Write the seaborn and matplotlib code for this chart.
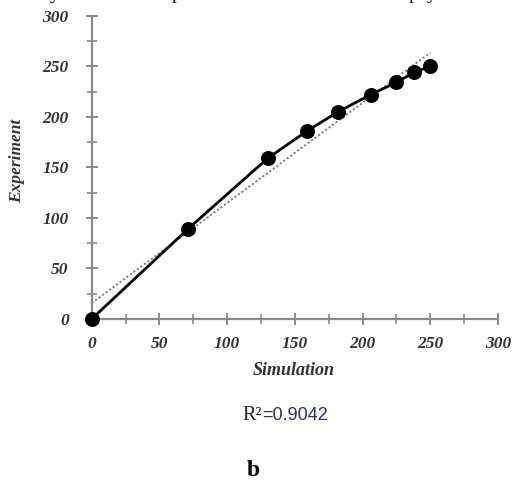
import matplotlib
matplotlib.use("Agg")
import matplotlib.pyplot as plt
import seaborn as sns
import numpy as np
from matplotlib.ticker import MultipleLocator

# Data
simulation = [0, 71, 130, 159, 182, 206, 225, 238, 250]
experiment = [0, 89, 159, 186, 205, 222, 234, 244, 250]
x_ticks = [0, 50, 100, 150, 200, 250, 300]
y_ticks = [0, 50, 100, 150, 200, 250, 300]
x_label = "Simulation"
y_label = "Experiment"
r2_text = "=0.9042"
panel_label = "b"

sns.set_style("ticks")
plt.rcParams["font.family"] = ["Liberation Serif", "DejaVu Serif"]

W, H = 515, 483
fig = plt.figure(figsize=(W / 100, H / 100), dpi=100)
ax = fig.add_axes([91.7 / W, 1 - 319 / H, (498 - 91.7) / W, (319 - 15.7) / H])

sns.regplot(x=simulation, y=experiment, scatter=False, ci=None, ax=ax,
            line_kws=dict(ls=(0, (1.2, 1.2)), color="#7a7a7a", lw=1.3))
sns.lineplot(x=simulation, y=experiment, ax=ax, color="black", lw=2,
             marker="o", markersize=10, markeredgecolor="black",
             markerfacecolor="black", clip_on=False, zorder=5)

ax.set_xlim(0, 300)
ax.set_ylim(0, 300)
ax.set_xticks(x_ticks)
ax.set_yticks(y_ticks)
ax.xaxis.set_minor_locator(MultipleLocator(25))
ax.yaxis.set_minor_locator(MultipleLocator(25))
for s in ["top", "right"]:
    ax.spines[s].set_visible(False)
for s in ["left", "bottom"]:
    ax.spines[s].set_color("#8a8a8a")
    ax.spines[s].set_linewidth(1.6)
ax.tick_params(which="major", direction="inout", length=9, width=1.4, color="#8a8a8a",
               labelsize=12.5, labelcolor="#333333")
ax.tick_params(which="minor", direction="inout", length=7, width=1.2, color="#8a8a8a")
ax.tick_params(axis="y", which="major", pad=12)
ax.tick_params(axis="x", which="major", pad=8)
for lab in ax.get_xticklabels() + ax.get_yticklabels():
    lab.set_fontstyle("italic")
    lab.set_fontweight("bold")

ax.set_xlabel(x_label, fontsize=13, fontstyle="italic", fontweight="bold",
              color="#333333")
ax.set_ylabel(y_label, fontsize=12.5, fontstyle="italic", fontweight="bold",
              color="#333333")
ax.yaxis.set_label_coords(-0.164, 0.52)
ax.xaxis.set_label_coords(0.497, -0.142)

# R^2 annotation
fig.text(262 / W, 1 - 416 / H, "R²", ha="right", va="center", fontsize=14.5,
         color="#222222", family=["Liberation Serif"])
fig.text(262 / W, 1 - 416 / H, r2_text, ha="left", va="center", fontsize=13,
         color="#2b2f6e", family=["Liberation Sans"])

fig.text(253 / W, 1 - 471 / H, panel_label, ha="center", va="center", fontsize=17,
         fontweight="bold", color="black")

# cropped line of text from above the figure (only descenders visible)
for xpos, ch in [(50, "y"), (172, "p"), (409, "p"), (427, "y")]:
    fig.text(xpos / W, 1 + 1 / H, ch, ha="left", va="baseline", fontsize=14,
             color="black")

fig.savefig("out.png", dpi=100, facecolor="white")
